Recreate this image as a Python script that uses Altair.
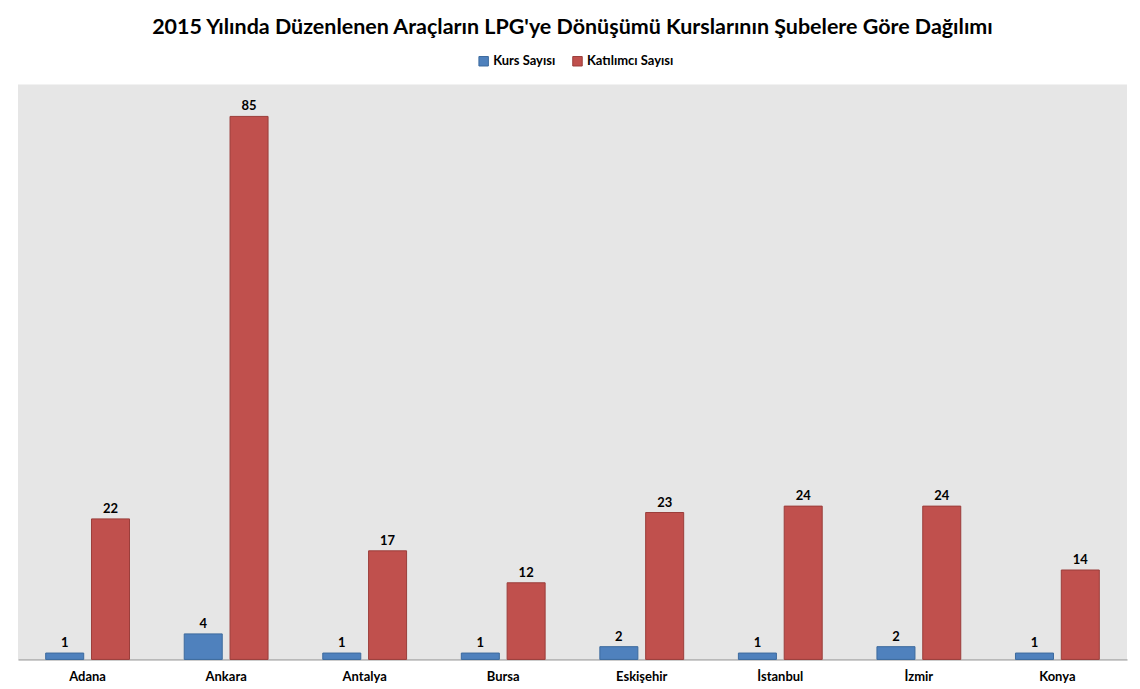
import altair as alt
import pandas as pd

cities = ["Adana", "Ankara", "Antalya", "Bursa", "Eskişehir", "İstanbul", "İzmir", "Konya"]
kurs = [1, 4, 1, 1, 2, 1, 2, 1]
katilimci = [22, 85, 17, 12, 23, 24, 24, 14]
series = ["Kurs Sayısı", "Katılımcı Sayısı"]
colors = ["#4f81bd", "#c0504d"]
strokes = ["#3c6a9e", "#9b3d3a"]

rows = []
for c, k, t in zip(cities, kurs, katilimci):
    rows.append({"Şube": c, "Seri": series[0], "Değer": k})
    rows.append({"Şube": c, "Seri": series[1], "Değer": t})
df = pd.DataFrame(rows)

FONT = "Lato"

x = alt.X("Şube:N", sort=cities, title=None,
          scale=alt.Scale(paddingInner=0.395, paddingOuter=0.2),
          axis=alt.Axis(labelAngle=0, labelFontWeight="bold", labelFontSize=13, labelFont=FONT,
                        labelColor="#000000", domainColor="#8c8c8c", ticks=False, labelPadding=11))
xo = alt.XOffset("Seri:N", sort=series, scale=alt.Scale(domain=series, paddingInner=0.17))
y = alt.Y("Değer:Q", title=None, scale=alt.Scale(domain=[0, 90], nice=False),
          axis=None)

bars = alt.Chart(df).mark_bar(strokeWidth=1).encode(
    x=x, xOffset=xo, y=y,
    color=alt.Color("Seri:N", scale=alt.Scale(domain=series, range=colors),
                    legend=alt.Legend(title=None, orient="none", direction="horizontal",
                                      legendX=460, legendY=-30, symbolType="square",
                                      symbolSize=90, labelFont=FONT, labelFontSize=13,
                                      labelFontWeight="bold", labelColor="#000000",
                                      labelOffset=3, columnPadding=14, symbolStrokeWidth=1)),
    stroke=alt.Stroke("Seri:N", scale=alt.Scale(domain=series, range=strokes), legend=None),
)

labels = alt.Chart(df).mark_text(dy=-10, fontWeight="bold", fontSize=13, font=FONT, color="#000000").encode(
    x=x, xOffset=xo, y=y, text="Değer:Q"
)

chart = (bars + labels).properties(
    width=1111, height=576,
    background="#ffffff",
    title=alt.TitleParams("2015 Yılında Düzenlenen Araçların LPG'ye Dönüşümü Kurslarının Şubelere Göre Dağılımı",
                          font=FONT, fontSize=21.5, fontWeight="bold", color="#000000", offset=16, anchor="middle"),
    padding={"left": 10, "top": 8, "right": 5, "bottom": 5},
    autosize=alt.AutoSizeParams(type="pad"),
).configure_view(fill="#e6e6e6", stroke=None)

chart.save("out.html", embed_options={"renderer": "svg", "actions": False})
